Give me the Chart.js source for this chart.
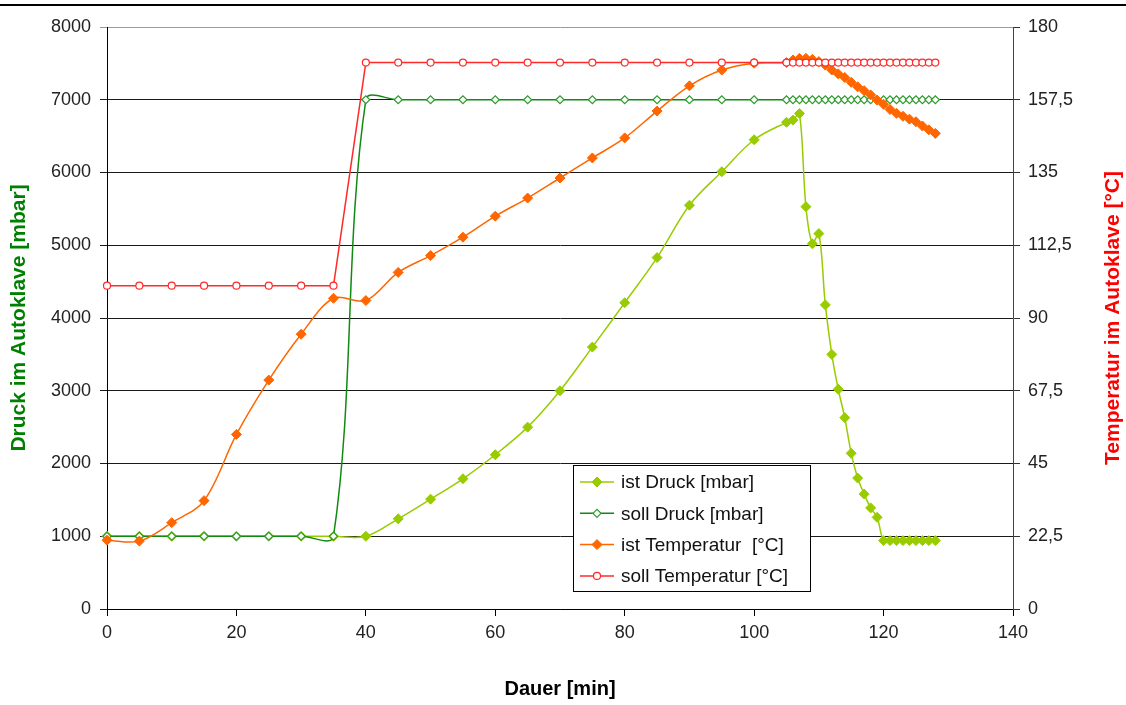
<!DOCTYPE html>
<html>
<head>
<meta charset="utf-8">
<title>Druck und Temperatur im Autoklave</title>
<script src="https://cdn.jsdelivr.net/npm/chart.js@4.4.1/dist/chart.umd.min.js"></script>
<style>
  html, body { margin: 0; padding: 0; background: #fff; }
  #wrap { position: relative; width: 1126px; height: 705px; }
  canvas { display: block; }
</style>
</head>
<body>
<div id="wrap"><canvas id="autoklave" width="1126" height="705"></canvas></div>
<script>
// Messzeitpunkte [min]: bis 100 alle 5 min, danach jede Minute
const minutes = [0, 5, 10, 15, 20, 25, 30, 35, 40, 45, 50, 55, 60, 65, 70, 75, 80, 85, 90, 95, 100,
  105, 106, 107, 108, 109, 110, 111, 112, 113, 114, 115, 116, 117, 118, 119, 120,
  121, 122, 123, 124, 125, 126, 127, 128];

// Druck [mbar]
const istDruck = [1000, 1000, 1000, 1000, 1000, 1000, 1000, 1000,
  1000, 1240, 1510, 1790, 2120, 2500, 3000, 3600, 4210, 4830, 5550, 6010, 6450,
  6690, 6720, 6810, 5530, 5020, 5160, 4180, 3500, 3020, 2630, 2140, 1800, 1580, 1390, 1260,
  940, 940, 940, 940, 940, 940, 940, 940, 940];
const sollDruck = [1000, 1000, 1000, 1000, 1000, 1000, 1000, 1000,
  7000, 7000, 7000, 7000, 7000, 7000, 7000, 7000, 7000, 7000, 7000, 7000, 7000,
  7000, 7000, 7000, 7000, 7000, 7000, 7000, 7000, 7000, 7000, 7000, 7000, 7000, 7000, 7000,
  7000, 7000, 7000, 7000, 7000, 7000, 7000, 7000, 7000];

// Temperatur [°C]
const istTemperatur = [21.3, 21.0, 26.7, 33.5, 54.0, 70.8, 85.0, 96.1,
  95.4, 104.1, 109.3, 115.0, 121.5, 127.1, 133.3, 139.5, 145.7, 154.0, 161.8, 166.7, 168.8,
  169.0, 169.8, 170.3, 170.3, 170.0, 169.3, 168.2, 166.7, 165.5, 164.4, 162.9, 161.5, 160.3, 159.0, 157.4,
  156.1, 154.5, 153.3, 152.4, 151.5, 150.7, 149.4, 148.2, 147.1];
const sollTemperatur = [100, 100, 100, 100, 100, 100, 100, 100,
  169, 169, 169, 169, 169, 169, 169, 169, 169, 169, 169, 169, 169,
  169, 169, 169, 169, 169, 169, 169, 169, 169, 169, 169, 169, 169, 169, 169,
  169, 169, 169, 169, 169, 169, 169, 169, 169];

// Achsenbeschriftung
const druckTicks = [0, 1000, 2000, 3000, 4000, 5000, 6000, 7000, 8000];
const tempTicks = [0, 22.5, 45, 67.5, 90, 112.5, 135, 157.5, 180];
const dauerTicks = [0, 20, 40, 60, 80, 100, 120, 140];

const FONT = "'Liberation Sans', Arial, sans-serif";

const toPoints = values => minutes.map((m, i) => ({ x: m, y: values[i] }));

// Rahmenlinie oben
const topRule = {
  id: 'topRule',
  beforeDraw(chart) {
    const ctx = chart.ctx;
    ctx.save();
    ctx.fillStyle = '#000';
    ctx.fillRect(0, 4, chart.width, 2);
    ctx.restore();
  }
};

// Legende als Kasten im Diagramm, rechter Achsentitel von unten nach oben
const legendBox = {
  id: 'legendBox',
  afterDatasetsDraw(chart) {
    const ctx = chart.ctx;
    const area = chart.chartArea;
    const x = area.left + 466, y = area.top + 438, w = 237, h = 126;
    ctx.save();
    ctx.fillStyle = '#fff';
    ctx.fillRect(x, y, w, h);
    ctx.strokeStyle = '#000';
    ctx.lineWidth = 1;
    ctx.strokeRect(x + 0.5, y + 0.5, w, h);
    ctx.font = '19px ' + FONT;
    ctx.textBaseline = 'middle';
    chart.data.datasets.forEach((ds, i) => {
      const cy = y + 17 + i * 31.3;
      ctx.strokeStyle = ds.borderColor;
      ctx.lineWidth = ds.borderWidth;
      ctx.beginPath();
      ctx.moveTo(x + 7, cy);
      ctx.lineTo(x + 41, cy);
      ctx.stroke();
      ctx.fillStyle = ds.pointBackgroundColor;
      ctx.strokeStyle = ds.pointBorderColor;
      ctx.lineWidth = ds.pointBorderWidth;
      Chart.helpers.drawPoint(ctx, {
        pointStyle: ds.pointStyle,
        radius: ds.pointRadius,
        borderWidth: ds.pointBorderWidth,
        rotation: 0
      }, x + 24, cy);
      ctx.fillStyle = '#111';
      ctx.fillText(ds.label, x + 48, cy + 1);
    });
    ctx.restore();
  },
  afterDraw(chart) {
    const ctx = chart.ctx;
    const area = chart.chartArea;
    ctx.save();
    ctx.translate(1113, (area.top + area.bottom) / 2);
    ctx.rotate(-Math.PI / 2);
    ctx.font = 'bold 21px ' + FONT;
    ctx.fillStyle = '#ff0000';
    ctx.textAlign = 'center';
    ctx.textBaseline = 'middle';
    ctx.fillText('Temperatur im Autoklave [°C]', 0, 0);
    ctx.restore();
  }
};

new Chart(document.getElementById('autoklave'), {
  type: 'line',
  data: {
    datasets: [
      {
        label: 'ist Druck [mbar]',
        data: toPoints(istDruck),
        yAxisID: 'y',
        order: 4,
        borderColor: '#99cc00',
        borderWidth: 1.5,
        pointStyle: 'rectRot',
        pointRadius: 5,
        pointBackgroundColor: '#99cc00',
        pointBorderColor: '#99cc00',
        pointBorderWidth: 1,
        tension: 0.35,
        clip: false
      },
      {
        label: 'soll Druck [mbar]',
        data: toPoints(sollDruck),
        yAxisID: 'y',
        order: 3,
        borderColor: '#108a10',
        borderWidth: 1.5,
        pointStyle: 'rectRot',
        pointRadius: 4,
        pointBackgroundColor: '#fff',
        pointBorderColor: '#2e9a2e',
        pointBorderWidth: 1.2,
        tension: 0.35,
        clip: false
      },
      {
        label: 'ist Temperatur  [°C]',
        data: toPoints(istTemperatur),
        yAxisID: 'y2',
        order: 2,
        borderColor: '#ff6600',
        borderWidth: 1.5,
        pointStyle: 'rectRot',
        pointRadius: 5,
        pointBackgroundColor: '#ff6600',
        pointBorderColor: '#ff6600',
        pointBorderWidth: 1,
        tension: 0.35,
        clip: false
      },
      {
        label: 'soll Temperatur [°C]',
        data: toPoints(sollTemperatur),
        yAxisID: 'y2',
        order: 1,
        borderColor: '#ff2a2a',
        borderWidth: 1.5,
        pointStyle: 'circle',
        pointRadius: 3.5,
        pointBackgroundColor: '#fff',
        pointBorderColor: '#ff2a2a',
        pointBorderWidth: 1.2,
        tension: 0,
        clip: false
      }
    ]
  },
  options: {
    responsive: false,
    animation: false,
    layout: { padding: { top: 27, left: 0, right: 0, bottom: 0 } },
    plugins: {
      legend: { display: false },
      tooltip: { enabled: false }
    },
    scales: {
      x: {
        type: 'linear',
        min: 0,
        max: 140,
        afterBuildTicks: s => { s.ticks = dauerTicks.map(v => ({ value: v })); },
        afterFit: s => { s.height = 96; },
        grid: { drawOnChartArea: false, color: '#000', tickLength: 7 },
        border: { color: '#000', width: 1 },
        ticks: { color: '#222', font: { size: 18, family: FONT }, padding: 6, callback: v => String(v) },
        title: {
          display: true,
          text: 'Dauer [min]',
          color: '#000',
          font: { size: 20, weight: 'bold', family: FONT },
          padding: { top: 4, bottom: 4 }
        }
      },
      y: {
        type: 'linear',
        position: 'left',
        min: 0,
        max: 8000,
        afterBuildTicks: s => { s.ticks = druckTicks.map(v => ({ value: v })); },
        afterFit: s => { s.width = 107; },
        grid: {
          color: c => (c.tick && c.tick.value === 8000 ? '#9a9a9a' : '#1a1a1a'),
          lineWidth: 1,
          tickLength: 7
        },
        border: { color: '#000', width: 1 },
        ticks: { color: '#222', font: { size: 18, family: FONT }, padding: 9, callback: v => String(v) },
        title: {
          display: true,
          text: 'Druck im Autoklave [mbar]',
          color: '#008000',
          font: { size: 21, weight: 'bold', family: FONT },
          padding: { top: 7, bottom: 4 }
        }
      },
      y2: {
        type: 'linear',
        position: 'right',
        min: 0,
        max: 180,
        afterBuildTicks: s => { s.ticks = tempTicks.map(v => ({ value: v })); },
        afterFit: s => { s.width = 113; },
        grid: { drawOnChartArea: false, color: '#333', tickLength: 7 },
        border: { color: '#444', width: 1 },
        ticks: { color: '#222', font: { size: 18, family: FONT }, padding: 8, callback: v => String(v).replace('.', ',') }
      }
    }
  },
  plugins: [topRule, legendBox]
});
</script>
</body>
</html>
